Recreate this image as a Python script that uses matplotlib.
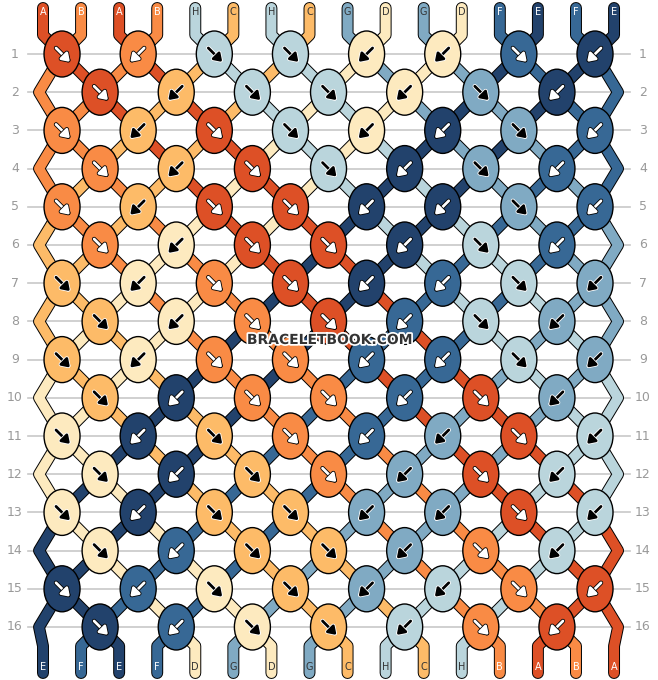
import numpy as np
import matplotlib.pyplot as plt
from matplotlib.patches import Ellipse
import matplotlib.patheffects as pe

# strings at the top, left to right
top_strings = ["A", "B", "A", "B", "H", "C", "H", "C", "G", "D", "G", "D", "F", "E", "F", "E"]
colors = {
    "A": "#dd5026", "B": "#f98b45", "C": "#fdbb68", "D": "#fdeabf",
    "H": "#bad5dc", "G": "#80aac3", "F": "#376895", "E": "#22426c",
}
dark = {"A", "B", "F", "E"}

# knot directions per row: R = forward (down-right), L = backward (down-left)
odd_row = ["R", "L", "R", "R", "L", "L", "R", "L"]
even_row = ["R", "L", "R", "R", "L", "R", "L"]
knots = [odd_row if r % 2 == 0 else even_row for r in range(16)]

n = len(top_strings)
x0, dx = 43.0, 38.07
y0, dy = 54.0, 38.2
xs = lambda p: x0 + dx * p
ys = lambda r: y0 + dy * r

# simulate the strings
order = list(range(n))
paths = {i: [(xs(i), 8), (xs(i), 35)] for i in range(n)}
knot_list = []
for r, row in enumerate(knots):
    start = 0 if r % 2 == 0 else 1
    used = set()
    for k, d in enumerate(row):
        p = start + 2 * k
        a, b = order[p], order[p + 1]
        kx, ky = xs(p + 0.5), ys(r)
        col = top_strings[a] if d == "R" else top_strings[b]
        knot_list.append((kx, ky, d, col))
        paths[a].append((kx, ky))
        paths[b].append((kx, ky))
        order[p], order[p + 1] = b, a
        used.update([p, p + 1])
    for p in range(n):
        if p not in used:
            ex = xs(p) - 4 if p == 0 else xs(p) + 4
            paths[order[p]].append((ex, ys(r)))
bottom_strings = [top_strings[i] for i in order]
for p, i in enumerate(order):
    paths[i].append((xs(p), ys(15) + 19))
    paths[i].append((xs(p), 673))

fig = plt.figure(figsize=(6.58, 6.80), dpi=100)
ax = fig.add_axes([0, 0, 1, 1])
ax.set_xlim(0, 658)
ax.set_ylim(680, 0)
ax.axis("off")

for r in range(16):
    y = ys(r)
    ax.plot([28, 630], [y, y], color="#c8c8c8", lw=1.2, zorder=0)
    ax.text(15, y, str(r + 1), ha="center", va="center", color="#999999", fontsize=9)
    ax.text(643, y, str(r + 1), ha="center", va="center", color="#999999", fontsize=9)

for i in range(n):
    pts = np.array(paths[i])
    c = colors[top_strings[i]]
    ax.plot(pts[:, 0], pts[:, 1], color="black", lw=8.6, solid_joinstyle="round",
            solid_capstyle="round", zorder=1)
    ax.plot(pts[:, 0], pts[:, 1], color=c, lw=7.2, solid_joinstyle="round",
            solid_capstyle="round", zorder=2)

for x, y, d, s in knot_list:
    ax.add_patch(Ellipse((x, y), 36, 46, facecolor=colors[s], edgecolor="black",
                         lw=1.0, zorder=3))
    ac = "white" if s in dark else "black"
    ec = "black" if s in dark else "white"
    sgn = 1 if d == "R" else -1
    ax.annotate("", xy=(x + 8 * sgn, y + 8), xytext=(x - 6 * sgn, y - 6),
                arrowprops=dict(arrowstyle="-|>,head_length=0.45,head_width=0.3",
                                color=ac, lw=2.0, shrinkA=0, shrinkB=0,
                                path_effects=[pe.withStroke(linewidth=3.2, foreground=ec)]),
                zorder=4)

def tab(x, y, s):
    ax.text(x, y, s, ha="center", va="center", fontsize=7,
            color="white" if s in dark else "#333333", zorder=6)

for p in range(n):
    tab(xs(p), 12, top_strings[p])
    tab(xs(p), 667, bottom_strings[p])

ax.text(330, 340, "BRACELETBOOK.COM", ha="center", va="center", fontsize=10,
        fontweight="bold", color="#333333", zorder=7,
        path_effects=[pe.withStroke(linewidth=2.5, foreground="white")])

fig.savefig("out.png", dpi=100)
